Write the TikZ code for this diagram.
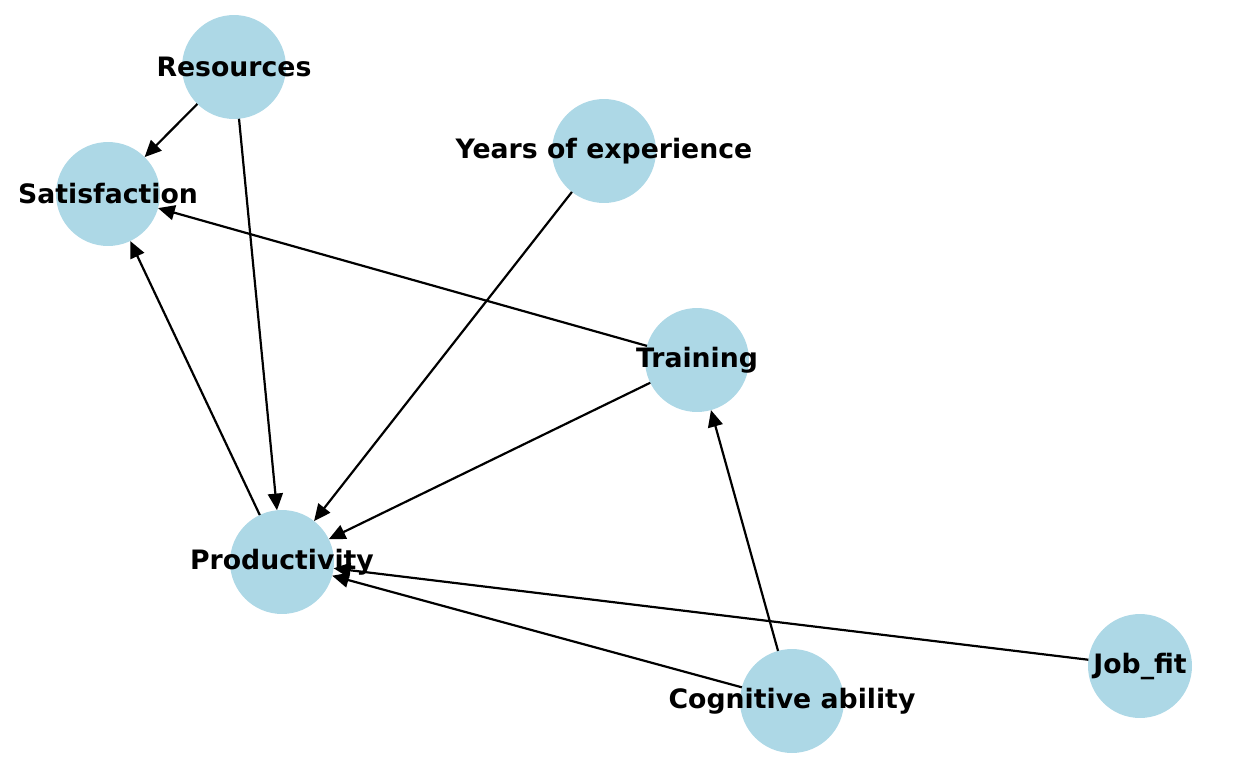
\documentclass[tikz,border=0pt]{standalone}
\usepackage{fontspec}
\setmainfont{DejaVu Sans}
\usetikzlibrary{arrows.meta}
\definecolor{nodeblue}{HTML}{ADD8E6}
\begin{document}
\begin{tikzpicture}[x=0.02cm, y=-0.02cm,
  var/.style={circle, fill=nodeblue, minimum size=2.08cm, inner sep=0pt, outer sep=0pt},
  vartext/.style={font={\bfseries\fontsize{15.2}{18}\selectfont}, inner sep=0pt},
  link/.style={draw=black, line width=1.25pt, -{Triangle[length=9.5pt,width=8.5pt]}}]
\useasboundingbox (0,0) rectangle (1248,768);
\node[var] (resources) at (234,67) {};
\node[var] (satisfaction) at (108,194) {};
\node[var] (years) at (604,151) {};
\node[var] (training) at (697,360) {};
\node[var] (productivity) at (282,562) {};
\node[var] (cognitive) at (792,701) {};
\node[var] (jobfit) at (1140,666) {};
\draw[link] (resources) -- (satisfaction);
\draw[link] (resources) -- (productivity);
\draw[link] (years) -- (productivity);
\draw[link] (training) -- (satisfaction);
\draw[link] (training) -- (productivity);
\draw[link] (productivity) -- (satisfaction);
\draw[link] (cognitive) -- (training);
\draw[link] (cognitive) -- (productivity);
\draw[link] (jobfit) -- (productivity);
\node[vartext] (resourcesText) at (resources) {Resources};
\node[vartext] (satisfactionText) at (satisfaction) {Satisfaction};
\node[vartext] (yearsText) at (years) {Years of experience};
\node[vartext] (trainingText) at (training) {Training};
\node[vartext] (productivityText) at (productivity) {Productivity};
\node[vartext] (cognitiveText) at (cognitive) {Cognitive ability};
\node[vartext] (jobfitText) at (jobfit) {Job\_fit};
\end{tikzpicture}
\end{document}
